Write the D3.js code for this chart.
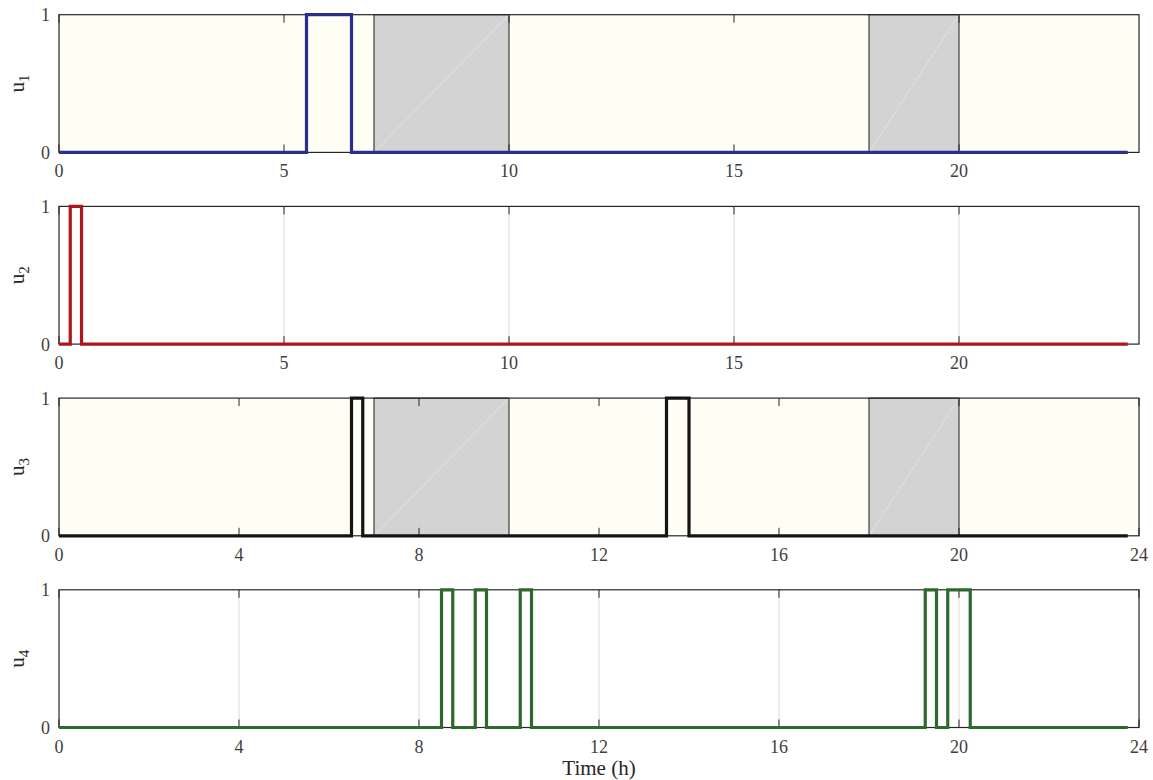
<!DOCTYPE html>
<html>
<head>
<meta charset="UTF-8">
<script src="https://d3js.org/d3.v7.min.js"></script>
<style>
  body { margin: 0; background: #fff; }
  svg { display: block; }
  svg text { font-family: "Liberation Serif", "Times New Roman", "DejaVu Serif", serif; }
</style>
</head>
<body>
<svg></svg>
<script>
const u1On = [[5.5, 6.5]];
const u2On = [[0.25, 0.5]];
const u3On = [[6.5, 6.75], [13.5, 14]];
const u4On = [[8.5, 8.75], [9.25, 9.5], [10.25, 10.5], [19.25, 19.5], [19.75, 20.25]];
const lastTime = 23.75;

// grey blocked periods shown in panels 1 and 3
const blockedPeriods = [[7, 10], [18, 20]];

const ticksA = [0, 5, 10, 15, 20];
const ticksB = [0, 4, 8, 12, 16, 20, 24];
const yTicks = [0, 1];

const panels = [
  { name: "1", on: u1On, color: "#2b2e8c", shaded: true, xticks: ticksA },
  { name: "2", on: u2On, color: "#b0141c", shaded: false, xticks: ticksA },
  { name: "3", on: u3On, color: "#141414", shaded: true, xticks: ticksB },
  { name: "4", on: u4On, color: "#2c6a2c", shaded: false, xticks: ticksB }
];

const width = 1153, height = 780;
const left = 59, right = 1139, panelH = 137.7, firstTop = 14.7, step = 191.7;

const svg = d3.select("svg").attr("width", width).attr("height", height);

const x = d3.scaleLinear().domain([0, 24]).range([left, right]);

function stepPoints(on) {
  let pts = [[0, 0]];
  on.forEach(p => {
    pts.push([p[0], 0], [p[0], 1], [p[1], 1], [p[1], 0]);
  });
  pts.push([lastTime, 0]);
  return pts;
}

panels.forEach((p, i) => {
  const top = firstTop + i * step;
  const y = d3.scaleLinear().domain([0, 1]).range([top + panelH, top]);
  const g = svg.append("g");

  if (p.shaded) {
    g.append("rect")
      .attr("x", x(0)).attr("y", y(1))
      .attr("width", x(24) - x(0)).attr("height", y(0) - y(1))
      .attr("fill", "#fefef4");
    blockedPeriods.forEach(b => {
      g.append("rect")
        .attr("x", x(b[0])).attr("y", y(1))
        .attr("width", x(b[1]) - x(b[0])).attr("height", y(0) - y(1))
        .attr("fill", "#d3d3d3")
        .attr("stroke", "#1a1a1a").attr("stroke-width", 1);
      g.append("line")
        .attr("x1", x(b[0])).attr("y1", y(0))
        .attr("x2", x(b[1])).attr("y2", y(1))
        .attr("stroke", "#e4e4e4").attr("stroke-width", 0.8);
    });
  } else {
    g.selectAll(".grid")
      .data(p.xticks.filter(t => t > 0 && t < 24))
      .join("line")
      .attr("x1", d => x(d)).attr("x2", d => x(d))
      .attr("y1", y(1)).attr("y2", y(0))
      .attr("stroke", "#dcdcdc").attr("stroke-width", 1);
  }

  // tick marks pointing inwards
  const tickG = g.append("g").attr("stroke", "#262626").attr("stroke-width", 1);
  p.xticks.forEach(t => {
    tickG.append("line").attr("x1", x(t)).attr("x2", x(t)).attr("y1", y(0)).attr("y2", y(0) - 8);
    tickG.append("line").attr("x1", x(t)).attr("x2", x(t)).attr("y1", y(1)).attr("y2", y(1) + 8);
  });

  // axes box
  g.append("rect")
    .attr("x", x(0)).attr("y", y(1))
    .attr("width", x(24) - x(0)).attr("height", y(0) - y(1))
    .attr("fill", "none").attr("stroke", "#262626").attr("stroke-width", 1.2);

  // tick labels
  g.selectAll(".xl")
    .data(p.xticks)
    .join("text")
    .attr("x", d => x(d)).attr("y", y(0) + 25)
    .attr("text-anchor", "middle")
    .attr("font-size", 18).attr("fill", "#404040")
    .text(d => d);
  g.selectAll(".yl")
    .data(yTicks)
    .join("text")
    .attr("x", left - 9).attr("y", d => y(d) + 6.5)
    .attr("text-anchor", "end")
    .attr("font-size", 18).attr("fill", "#404040")
    .text(d => d);

  // y label u_i
  const lab = g.append("text")
    .attr("transform", `translate(24,${(y(0) + y(1)) / 2}) rotate(-90)`)
    .attr("text-anchor", "middle")
    .attr("font-size", 21).attr("fill", "#262626");
  lab.append("tspan").text("u");
  lab.append("tspan").attr("font-size", 15).attr("dy", 5).text(p.name);

  // data line
  g.append("path")
    .datum(stepPoints(p.on))
    .attr("d", d3.line().x(d => x(d[0])).y(d => y(d[1])))
    .attr("fill", "none")
    .attr("stroke", p.color)
    .attr("stroke-width", 3.2);
});

svg.append("text")
  .attr("x", (left + right) / 2).attr("y", 775)
  .attr("text-anchor", "middle")
  .attr("font-size", 21).attr("fill", "#262626")
  .text("Time (h)");
</script>
</body>
</html>
